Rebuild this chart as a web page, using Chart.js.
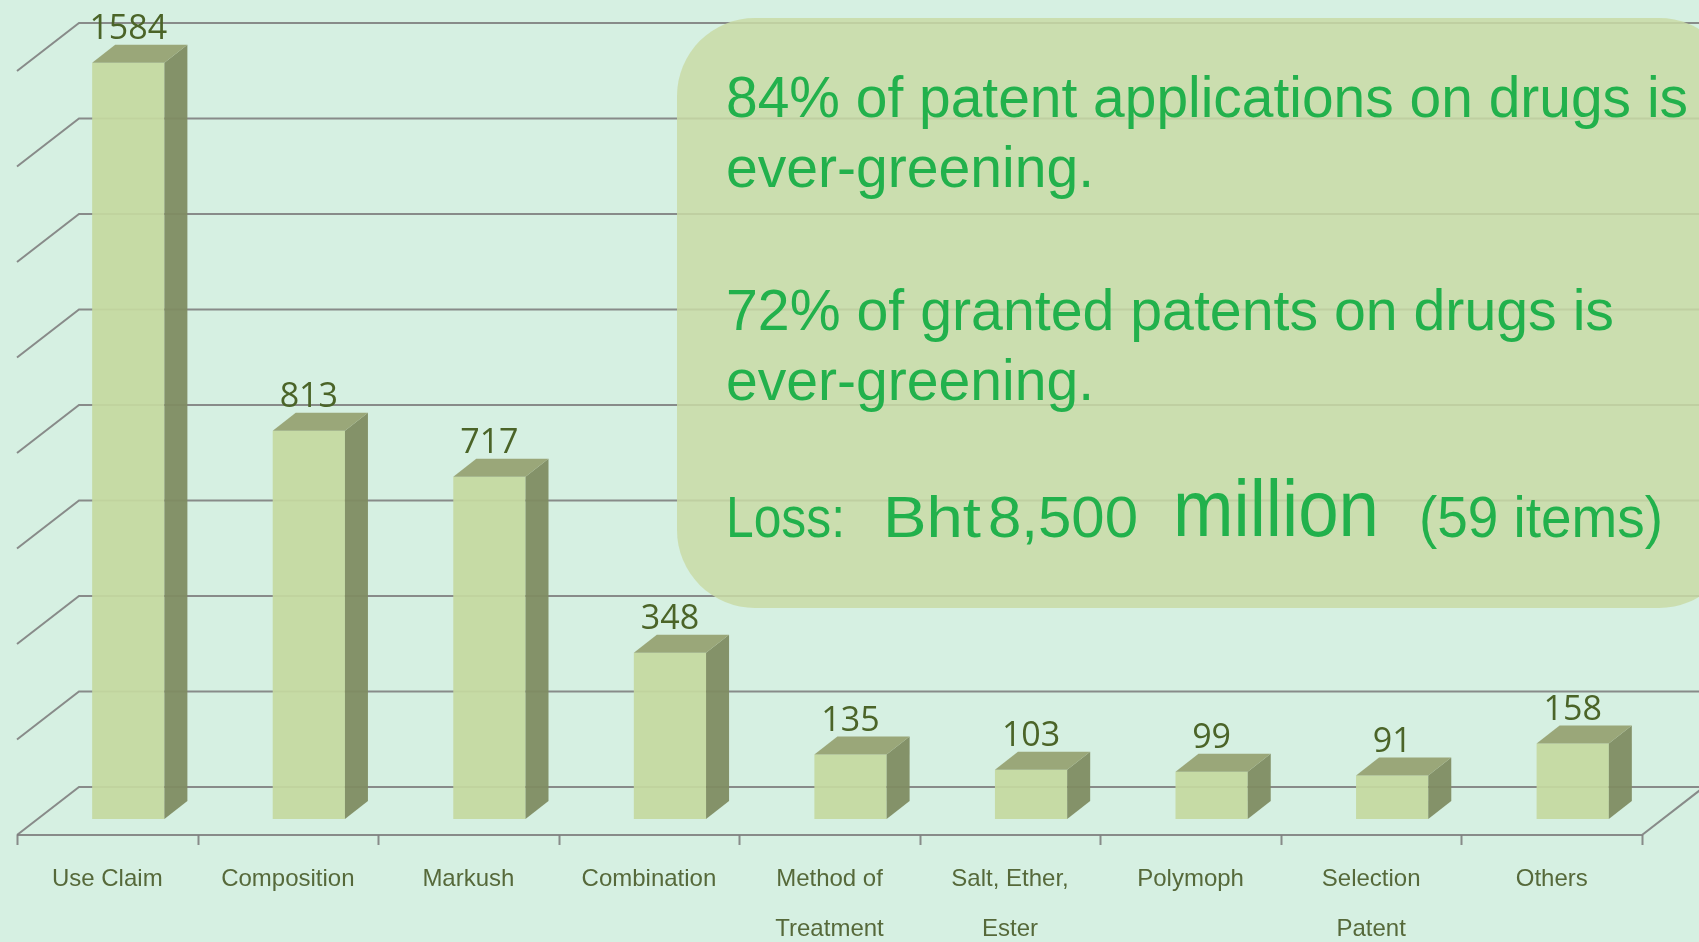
<!DOCTYPE html>
<html>
<head>
<meta charset="utf-8">
<script src="https://cdn.jsdelivr.net/npm/chart.js@4"></script>
<style>
  html, body { margin: 0; padding: 0; background: #d6f0e2; overflow: hidden; }
  #wrap { position: relative; width: 1699px; height: 942px; }
  #chart { position: absolute; left: 0; top: 0; }
  .note-box {
    position: absolute; left: 677px; top: 18px; width: 1060px; height: 590px;
    border-radius: 78px; background: rgba(201, 218, 166, 0.85);
  }
  .line {
    position: absolute; white-space: nowrap; color: #22b14c;
    font-family: "Liberation Sans Narrow", "Liberation Sans", sans-serif;
    font-size: 58px; line-height: 58px; transform-origin: 0 0;
  }
</style>
</head>
<body>
<div id="wrap">
  <canvas id="chart" width="1699" height="942"></canvas>
  <div class="note-box"></div>
  <!-- baseline ~= top + 0.8465 * font-size -->
  <div class="line" style="left:726px;top:68px" data-w="962">84% of patent applications on drugs is</div>
  <div class="line" style="left:726px;top:138px" data-w="368">ever-greening.</div>
  <div class="line" style="left:726px;top:281px" data-w="888">72% of granted patents on drugs is</div>
  <div class="line" style="left:726px;top:351px" data-w="368">ever-greening.</div>
  <div class="line" style="left:726px;top:488px" data-w="119">Loss:</div>
  <div class="line" style="left:883px;top:488px" data-w="98">Bht</div>
  <div class="line" style="left:988px;top:488px" data-w="150">8,500</div>
  <div class="line" style="left:1173px;top:469px;font-size:80px;line-height:80px" data-w="206">million</div>
  <div class="line" style="left:1419px;top:488px" data-w="244">(59 items)</div>
</div>

<script>
// ===== Data =====
const categories = [
  'Use Claim', 'Composition', 'Markush', 'Combination',
  ['Method of', 'Treatment'], ['Salt, Ether,', 'Ester'],
  'Polymoph', ['Selection', 'Patent'], 'Others'
];
const counts = [1584, 813, 717, 348, 135, 103, 99, 91, 158];
const yMax = 1600;
const yStep = 200;

// ===== 3D look (pixel offsets of the depth axis) =====
const FRONT_DX = -21, FRONT_DY = 16;   // floor front edge vs. bar front plane
const BACK_DX = 41, BACK_DY = -32;     // back wall vs. bar front plane
const BAR_DX = 23, BAR_DY = 18;        // bar depth

const GRID_COLOR = 'rgba(128, 128, 128, 0.9)';

const scene3d = {
  id: 'scene3d',
  beforeDatasetsDraw(chart) {
    const ctx = chart.ctx;
    const area = chart.chartArea;
    const ys = chart.scales.y;
    const xs = chart.scales.x;
    ctx.save();
    ctx.strokeStyle = GRID_COLOR;
    ctx.lineWidth = 2;

    // back wall gridlines + left wall diagonals
    for (let v = 0; v <= yMax; v += yStep) {
      const py = ys.getPixelForValue(v);
      ctx.beginPath();
      ctx.moveTo(area.left + FRONT_DX, py + FRONT_DY);
      ctx.lineTo(area.left + BACK_DX, py + BACK_DY);
      ctx.lineTo(chart.width, py + BACK_DY);
      ctx.stroke();
    }

    // floor front edge, right edge and tick marks
    const y0 = ys.getPixelForValue(0);
    const fy = y0 + FRONT_DY;
    ctx.beginPath();
    ctx.moveTo(area.left + FRONT_DX, fy);
    ctx.lineTo(area.right + FRONT_DX, fy);
    ctx.lineTo(area.right + BACK_DX, y0 + BACK_DY);
    ctx.stroke();

    const n = categories.length;
    const catW = (area.right - area.left) / n;
    ctx.beginPath();
    for (let i = 0; i <= n; i++) {
      const tx = Math.round(area.left + FRONT_DX + i * catW) + 0.5;
      ctx.moveTo(tx, fy);
      ctx.lineTo(tx, fy + 10);
    }
    ctx.stroke();
    ctx.restore();
  },
  afterDatasetsDraw(chart) {
    const ctx = chart.ctx;
    const meta = chart.getDatasetMeta(0);
    ctx.save();
    meta.data.forEach((bar, i) => {
      const left = bar.x - bar.width / 2;
      const right = bar.x + bar.width / 2;
      const top = bar.y;
      const base = bar.base;

      // side face
      ctx.fillStyle = 'rgba(128, 140, 98, 0.95)';
      ctx.beginPath();
      ctx.moveTo(right, top);
      ctx.lineTo(right + BAR_DX, top - BAR_DY);
      ctx.lineTo(right + BAR_DX, base - BAR_DY);
      ctx.lineTo(right, base);
      ctx.closePath();
      ctx.fill();

      // top face
      ctx.fillStyle = 'rgba(152, 164, 118, 0.97)';
      ctx.beginPath();
      ctx.moveTo(left, top);
      ctx.lineTo(left + BAR_DX, top - BAR_DY);
      ctx.lineTo(right + BAR_DX, top - BAR_DY);
      ctx.lineTo(right, top);
      ctx.closePath();
      ctx.fill();

      // value label
      ctx.fillStyle = '#4b6428';
      ctx.font = '34px "Open Sans", sans-serif';
      ctx.textAlign = 'center';
      ctx.textBaseline = 'alphabetic';
      ctx.fillText(String(counts[i]), bar.x, top - 24);
    });
    ctx.restore();
  }
};

new Chart(document.getElementById('chart'), {
  type: 'bar',
  data: {
    labels: categories,
    datasets: [{
      data: counts,
      backgroundColor: 'rgba(197, 217, 160, 0.93)',
      borderWidth: 0,
      barPercentage: 0.4,
      categoryPercentage: 1.0
    }]
  },
  options: {
    responsive: false,
    animation: false,
    devicePixelRatio: 1,
    layout: { padding: { left: 38, right: 36, top: 55, bottom: 0 } },
    plugins: {
      legend: { display: false },
      tooltip: { enabled: false }
    },
    scales: {
      x: {
        grid: { display: false, drawTicks: false },
        border: { display: false },
        ticks: {
          autoSkip: false,
          maxRotation: 0,
          padding: 35,
          labelOffset: FRONT_DX,
          color: '#56693a',
          font: { family: '"Liberation Sans", sans-serif', size: 24, lineHeight: '50px' }
        },
        afterFit(scale) { scale.height = 123; }
      },
      y: {
        display: false,
        min: 0,
        max: yMax,
        ticks: { stepSize: yStep }
      }
    }
  },
  plugins: [scene3d]
});

// stretch each text line to the width it has in the original slide
document.querySelectorAll('.line').forEach(el => {
  const w = el.getBoundingClientRect().width;
  const target = Number(el.dataset.w);
  if (w > 0) el.style.transform = `scaleX(${target / w})`;
});
</script>
</body>
</html>
